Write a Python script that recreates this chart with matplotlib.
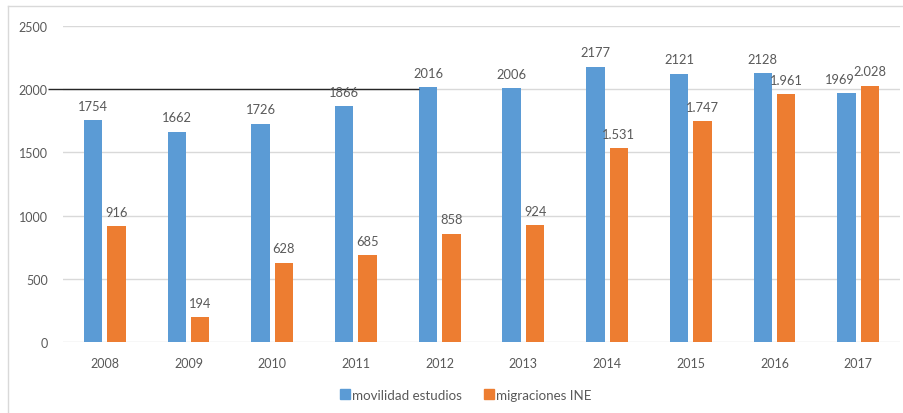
import matplotlib
matplotlib.use("Agg")
import matplotlib.pyplot as plt
from matplotlib.lines import Line2D
import numpy as np

# datos
years = ["2008", "2009", "2010", "2011", "2012", "2013", "2014", "2015", "2016", "2017"]
movilidad = [1754, 1662, 1726, 1866, 2016, 2006, 2177, 2121, 2128, 1969]
migraciones = [916, 194, 628, 685, 858, 924, 1531, 1747, 1961, 2028]
y_ticks = [0, 500, 1000, 1500, 2000, 2500]

BLUE = "#5B9BD5"
ORANGE = "#ED7D31"
TEXT = "#595959"
GRID = "#D9D9D9"

plt.rcParams["font.family"] = ["Lato", "DejaVu Sans"]

W, H = 904, 414
fig = plt.figure(figsize=(W / 100, H / 100), dpi=100)
ax = fig.add_axes([63 / W, (H - 343) / H, (900 - 63) / W, (343 - 27) / H])

x = np.arange(len(years))
bw = 0.22
off = 0.14
ax.bar(x - off, movilidad, bw, color=BLUE, label="movilidad estudios", zorder=3)
ax.bar(x + off, migraciones, bw, color=ORANGE, label="migraciones INE", zorder=3)


def fmt_miles(v):
    # formato con punto de miles, como en el original
    return f"{v:,}".replace(",", ".")


for i, (xi, v) in enumerate(zip(x, movilidad)):
    # el ultimo se desplaza un poco a la izquierda para no pisar al naranja
    dx = -4.5 if i == len(years) - 1 else 0
    ax.annotate(str(v), (xi - off, v), xytext=(dx, 10.4), textcoords="offset points",
                ha="center", va="center", fontsize=9.3, color=TEXT, zorder=5)
for xi, v in zip(x, migraciones):
    ax.annotate(fmt_miles(v), (xi + off, v), xytext=(0, 10.4), textcoords="offset points",
                ha="center", va="center", fontsize=9.3, color=TEXT, zorder=5)

ax.set_xlim(-0.5, len(years) - 0.5)
ax.set_ylim(0, 2500)
ax.set_yticks(y_ticks)
ax.set_yticklabels([str(t) for t in y_ticks])
ax.set_xticks(x)
ax.set_xticklabels(years)
ax.tick_params(axis="both", length=0, labelsize=9, colors=TEXT)
ax.tick_params(axis="y", pad=11)
ax.tick_params(axis="x", pad=11)
for s in ax.spines.values():
    s.set_visible(False)
ax.grid(axis="y", color=GRID, linewidth=1, zorder=0)
ax.set_axisbelow(True)

# linea negra suelta a la altura de 2000
ax.hlines(2000, -0.68, 4 - off - bw / 2, color="#262626", linewidth=1, clip_on=False, zorder=4)

# leyenda abajo
handles = [Line2D([], [], marker="s", linestyle="none", markersize=7, color=BLUE),
           Line2D([], [], marker="s", linestyle="none", markersize=7, color=ORANGE)]
leg = fig.legend(handles, ["movilidad estudios", "migraciones INE"], loc="center",
                 bbox_to_anchor=(465 / W, (H - 396) / H), ncol=2, frameon=False,
                 fontsize=9.6, handletextpad=0.05, columnspacing=1.6, handlelength=0.9)
for t in leg.get_texts():
    t.set_color(TEXT)

# borde del grafico
fig.add_artist(Line2D([8 / W, 8 / W], [0, (H - 7) / H], color=GRID, linewidth=1))
fig.add_artist(Line2D([8 / W, 1], [(H - 7) / H, (H - 7) / H], color=GRID, linewidth=1))

fig.savefig("out.png", dpi=100)
